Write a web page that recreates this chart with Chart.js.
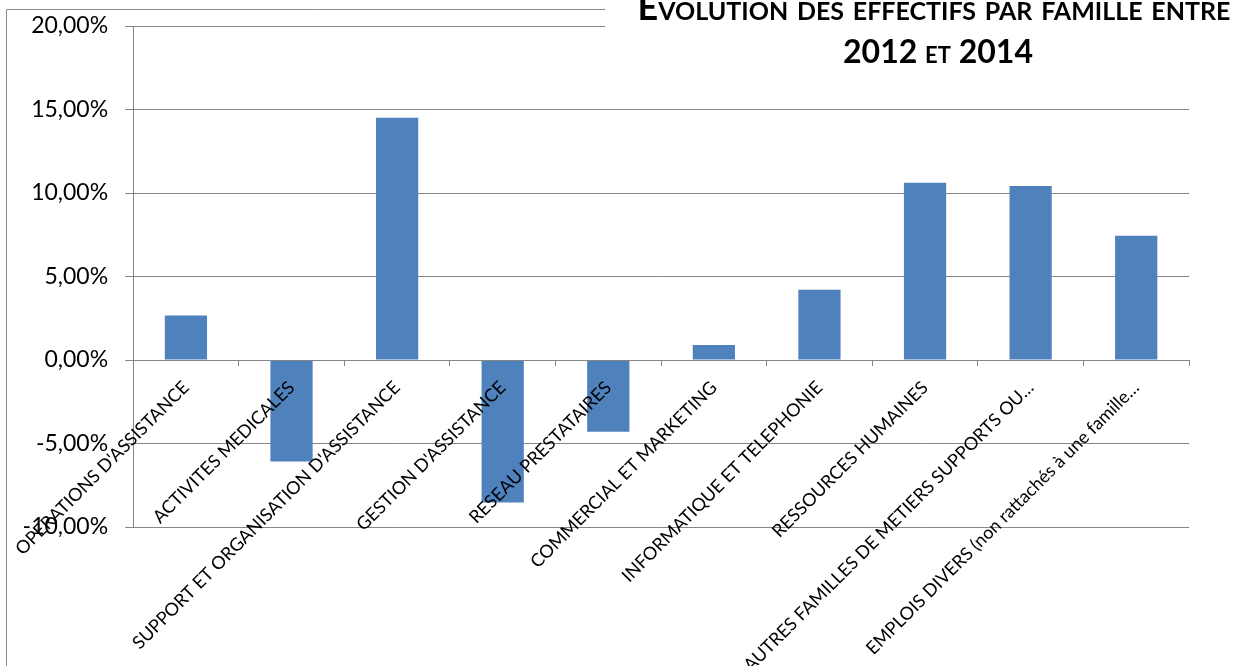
<!DOCTYPE html>
<html>
<head>
<meta charset="utf-8">
<script src="https://cdn.jsdelivr.net/npm/chart.js@4"></script>
<style>
  html, body { margin: 0; padding: 0; background: #fff; }
  #wrap { width: 1248px; height: 666px; position: relative; }
</style>
</head>
<body>
<div id="wrap"><canvas id="evolChart"></canvas></div>
<script>
const categories = [
    "OPERATIONS D'ASSISTANCE",
    'ACTIVITES MEDICALES',
    "SUPPORT ET ORGANISATION D'ASSISTANCE",
    "GESTION D'ASSISTANCE",
    'RESEAU PRESTATAIRES',
    'COMMERCIAL ET MARKETING',
    'INFORMATIQUE ET TELEPHONIE',
    'RESSOURCES HUMAINES',
    'AUTRES FAMILLES DE METIERS SUPPORTS OU…',
    'EMPLOIS DIVERS (non rattachés à une famille…'
];
const evolution = [2.66, -6.08, 14.50, -8.53, -4.29, 0.90, 4.21, 10.62, 10.42, 7.44];
const yTicks = [-10, -5, 0, 5, 10, 15, 20];
const titleLines = ['Évolution des effectifs par famille entre', '2012 et 2014'];

const gray = '#868686';
const fmtPct = v => v.toFixed(2).replace('.', ',') + '%';

// outer frame of the chart object (left and top edges only are visible)
const framePlugin = {
    id: 'frame',
    beforeDraw(chart) {
        const c = chart.ctx;
        c.save();
        c.strokeStyle = '#8a8a8a';
        c.lineWidth = 1;
        c.beginPath();
        c.moveTo(6.5, chart.height);
        c.lineTo(6.5, 9.5);
        c.lineTo(chart.width, 9.5);
        c.stroke();
        c.restore();
    }
};

// title in a white box on top of the plot, small caps
const titlePlugin = {
    id: 'boxTitle',
    afterDraw(chart) {
        const c = chart.ctx;
        c.save();
        c.fillStyle = '#fff';
        c.fillRect(605, 0, chart.width - 605, 80);
        c.fillStyle = '#000';
        c.textAlign = 'center';
        c.textBaseline = 'alphabetic';
        c.font = 'small-caps bold 36px Lato';
        c.fillText(titleLines[0], 934, 20);
        c.font = 'small-caps bold 32px Lato';
        c.fillText(titleLines[1], 938, 63);
        c.restore();
    }
};

new Chart(document.getElementById('evolChart'), {
    type: 'bar',
    data: {
        labels: categories,
        datasets: [{
            data: evolution,
            backgroundColor: '#4F81BD',
            borderWidth: 0,
            barPercentage: 0.4,
            categoryPercentage: 1.0
        }]
    },
    options: {
        responsive: true,
        maintainAspectRatio: false,
        animation: false,
        layout: {
            padding: { left: 0, top: 26, right: 59, bottom: 139 }
        },
        plugins: {
            legend: { display: false },
            title: { display: false },
            tooltip: { enabled: false }
        },
        scales: {
            x: {
                type: 'category',
                position: { y: 0 },
                offset: true,
                grid: {
                    offset: true,
                    drawOnChartArea: false,
                    tickLength: 5,
                    color: gray
                },
                border: { color: gray, z: 1 },
                ticks: {
                    z: 1,
                    autoSkip: false,
                    minRotation: 45,
                    maxRotation: 45,
                    padding: 12,
                    labelOffset: 0,
                    color: '#000',
                    font: { family: 'Lato', size: 18 }
                }
            },
            y: {
                min: -10,
                max: 20,
                afterBuildTicks: scale => {
                    scale.ticks = yTicks.map(v => ({ value: v }));
                },
                afterFit: scale => {
                    scale.width = 133;
                    scale.paddingTop = 0;
                    scale.paddingBottom = 0;
                },
                grid: {
                    color: gray,
                    tickLength: 8
                },
                border: { color: gray },
                ticks: {
                    padding: 17,
                    color: '#000',
                    font: { family: 'Lato', size: 23 },
                    callback: v => fmtPct(v)
                }
            }
        }
    },
    plugins: [framePlugin, titlePlugin]
});
</script>
</body>
</html>
